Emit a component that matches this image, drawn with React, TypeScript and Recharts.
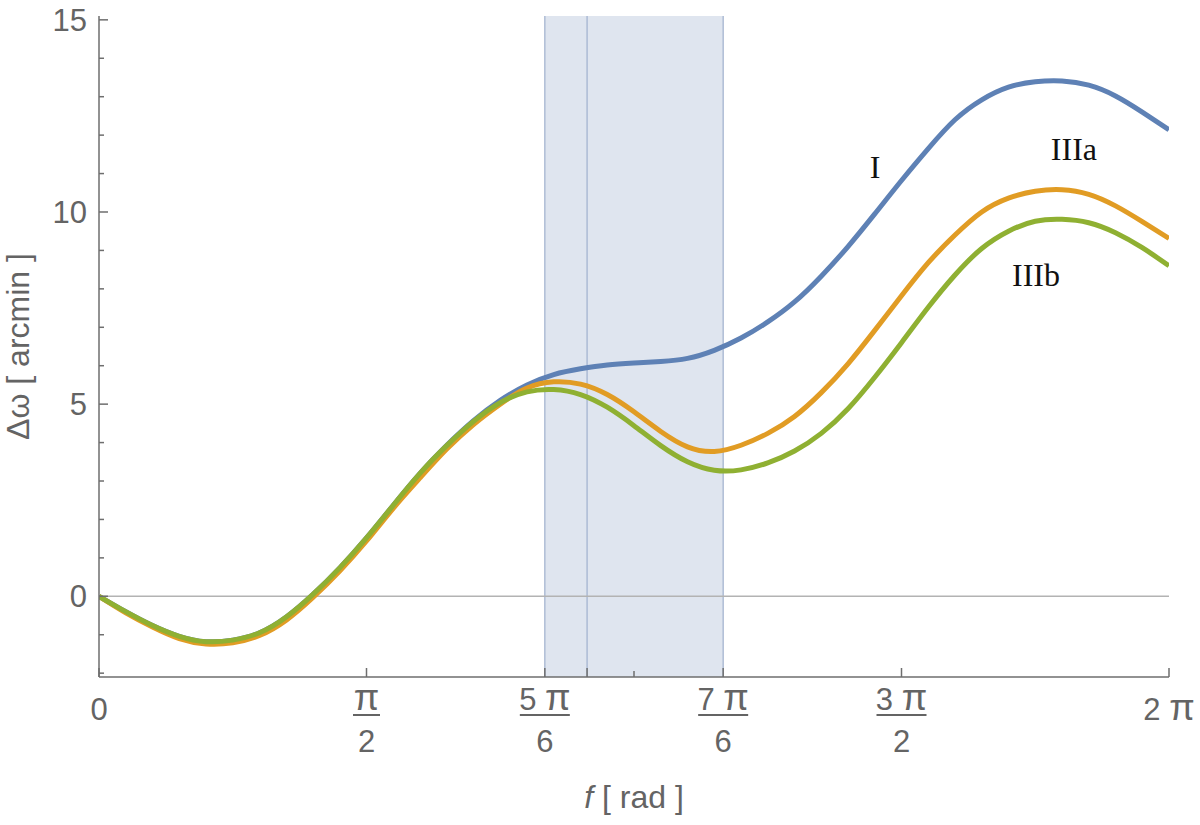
import React from 'react';
import {
  LineChart, Line, XAxis, YAxis, ReferenceArea, ReferenceLine, ReferenceDot,
} from 'recharts';

const PI = Math.PI;

// f in radians (uniform grid, step 2π/40)
const fValues = [0, 0.1571, 0.3142, 0.4712, 0.6283, 0.7854, 0.9425, 1.0996, 1.2566, 1.4137, 1.5708, 1.7279, 1.885, 2.042, 2.1991, 2.3562, 2.5133, 2.6704, 2.8274, 2.9845, 3.1416, 3.2987, 3.4558, 3.6128, 3.7699, 3.927, 4.0841, 4.2412, 4.3982, 4.5553, 4.7124, 4.8695, 5.0265, 5.1836, 5.3407, 5.4978, 5.6549, 5.812, 5.969, 6.1261, 6.2831];
const seriesI = [0, -0.40, -0.76, -1.04, -1.18, -1.14, -0.95, -0.54, 0.05, 0.74, 1.52, 2.37, 3.2, 3.93, 4.57, 5.1, 5.5, 5.77, 5.92, 6.02, 6.07, 6.11, 6.19, 6.4, 6.72, 7.14, 7.66, 8.33, 9.1, 9.95, 10.82, 11.65, 12.4, 12.92, 13.25, 13.39, 13.41, 13.3, 13.02, 12.6, 12.14];
const seriesIIIa = [0, -0.43, -0.80, -1.10, -1.24, -1.21, -1.02, -0.62, -0.03, 0.66, 1.44, 2.29, 3.08, 3.83, 4.47, 5.0, 5.42, 5.58, 5.52, 5.25, 4.8, 4.29, 3.89, 3.77, 3.93, 4.24, 4.68, 5.3, 6.05, 6.92, 7.82, 8.68, 9.4, 10.0, 10.36, 10.54, 10.58, 10.46, 10.16, 9.75, 9.31];
const seriesIIIb = [0, -0.40, -0.76, -1.04, -1.18, -1.14, -0.95, -0.54, 0.05, 0.74, 1.52, 2.37, 3.2, 3.92, 4.55, 5.04, 5.32, 5.38, 5.25, 4.92, 4.44, 3.92, 3.50, 3.28, 3.29, 3.47, 3.78, 4.24, 4.88, 5.7, 6.6, 7.52, 8.36, 9.05, 9.5, 9.76, 9.81, 9.72, 9.46, 9.07, 8.6];

const xTicks = [0, PI / 2, (5 * PI) / 6, 2.866, PI, (7 * PI) / 6, (3 * PI) / 2, 2 * PI];
const xTickLabels = ['0', 'π/2', '5 π/6', '', '', '7 π/6', '3 π/2', '2 π'];
const xTickMinor = [false, false, false, false, true, false, false, false];

const yTicks = [-2, -1, 0, 1, 2, 3, 4, 5, 6, 7, 8, 9, 10, 11, 12, 13, 14, 15];
const yTickLabeled = [0, 5, 10, 15];

const bandStart = (5 * PI) / 6;
const bandEnd = (7 * PI) / 6;
const bandLines = [bandStart, 2.866, bandEnd];

const seriesNames = ['I', 'IIIa', 'IIIb'];
const labelF = [4.557, 5.725, 5.502];
const labelV = [11.17, 11.64, 8.36];

const data = fValues.map((f, i) => ({
  f,
  I: seriesI[i],
  IIIa: seriesIIIa[i],
  IIIb: seriesIIIb[i],
}));

const FONT = '"Liberation Sans", Arial, sans-serif';
const TEXT = '#646464';
const FRAME = '#6e6e6e';

const findIdx = (v: number) => xTicks.findIndex((t) => Math.abs(t - v) < 1e-6);

// render text with a larger π glyph
const withPi = (s: string) => {
  const parts = s.split('π');
  const out: any[] = [];
  parts.forEach((p, i) => {
    if (p) out.push(<tspan key={'t' + i}>{p}</tspan>);
    if (i < parts.length - 1) out.push(<tspan key={'p' + i} fontSize={37}>π</tspan>);
  });
  return out;
};

const BottomTick = (props: any) => {
  const { x, y, payload } = props;
  const i = findIdx(payload.value);
  const len = xTickMinor[i] ? 6 : 9;
  const lab = xTickLabels[i] || '';
  let labelEl: any = null;
  if (lab.includes('/')) {
    const [num, den] = lab.split('/');
    const w = num.length > 1 ? 50 : 27;
    labelEl = (
      <g>
        <text x={x} y={y + 33} textAnchor="middle" fontSize={31} fontFamily={FONT} fill={TEXT}>{withPi(num)}</text>
        <line x1={x - w / 2} x2={x + w / 2} y1={y + 38} y2={y + 38} stroke={TEXT} strokeWidth={2} />
        <text x={x} y={y + 75} textAnchor="middle" fontSize={31} fontFamily={FONT} fill={TEXT}>{den}</text>
      </g>
    );
  } else if (lab) {
    labelEl = (
      <text x={x} y={y + 43} textAnchor="middle" fontSize={31} fontFamily={FONT} fill={TEXT}>{withPi(lab)}</text>
    );
  }
  return (
    <g>
      <line x1={x} x2={x} y1={y} y2={y - len} stroke={FRAME} strokeWidth={1.5} />
      {labelEl}
    </g>
  );
};

const TopTick = (props: any) => {
  const { x, y, payload } = props;
  const i = findIdx(payload.value);
  const len = xTickMinor[i] ? 6 : 9;
  return <line x1={x} x2={x} y1={y} y2={y + len} stroke={FRAME} strokeWidth={1.5} />;
};

const LeftTick = (props: any) => {
  const { x, y, payload } = props;
  const major = yTickLabeled.includes(payload.value);
  return (
    <g>
      <line x1={x} x2={x + (major ? 9 : 5)} y1={y} y2={y} stroke={FRAME} strokeWidth={1.5} />
      {major && (
        <text x={x - 12} y={y + 11} textAnchor="end" fontSize={31} fontFamily={FONT} fill={TEXT}>
          {payload.value}
        </text>
      )}
    </g>
  );
};

const RightTick = (props: any) => {
  const { x, y, payload } = props;
  const major = yTickLabeled.includes(payload.value);
  return <line x1={x} x2={x - (major ? 9 : 5)} y1={y} y2={y} stroke={FRAME} strokeWidth={1.5} />;
};

const YLabel = (props: any) => {
  const vb = props.viewBox || {};
  const cx = (vb.x || 0) + 29;
  const cy = (vb.y || 0) + (vb.height || 0) / 2;
  return (
    <text x={cx} y={cy} transform={`rotate(-90, ${cx}, ${cy})`} textAnchor="middle" fontSize={32} fontFamily={FONT} fill={TEXT}>
      Δω [ arcmin ]
    </text>
  );
};

const XLabel = (props: any) => {
  const vb = props.viewBox || {};
  const cx = (vb.x || 0) + (vb.width || 0) / 2;
  const cy = (vb.y || 0) + 131;
  return (
    <text x={cx} y={cy} textAnchor="middle" fontSize={32} fontFamily={FONT} fill={TEXT}>
      <tspan fontStyle="italic">f</tspan> [ rad ]
    </text>
  );
};

export default function App() {
  return (
    <div style={{ position: 'absolute', left: 0, top: 0, width: 1200, height: 825, background: '#fff' }}>
      <LineChart width={1200} height={825} data={data} margin={{ top: 16, right: 31, bottom: 0, left: 0 }}>
        <XAxis
          dataKey="f"
          type="number"
          domain={[0, 2 * PI]}
          ticks={xTicks}
          interval={0}
          height={148}
          tickSize={0}
          tickMargin={0}
          tickLine={false}
          axisLine={{ stroke: FRAME, strokeWidth: 1.5 }}
          tick={<BottomTick />}
          allowDataOverflow
          label={<XLabel />}
        />
        <XAxis
          xAxisId="top"
          orientation="top"
          dataKey="f"
          type="number"
          domain={[0, 2 * PI]}
          ticks={xTicks}
          interval={0}
          height={0}
          tickSize={0}
          tickMargin={0}
          tickLine={false}
          axisLine={{ stroke: FRAME, strokeWidth: 1.5 }}
          tick={<TopTick />}
          allowDataOverflow
        />
        <YAxis
          type="number"
          domain={[-2.1, 15.1]}
          ticks={yTicks}
          interval={0}
          width={99}
          tickSize={0}
          tickMargin={0}
          tickLine={false}
          axisLine={{ stroke: FRAME, strokeWidth: 1.5 }}
          tick={<LeftTick />}
          allowDataOverflow
          label={<YLabel />}
        />
        <YAxis
          yAxisId="right"
          orientation="right"
          type="number"
          domain={[-2.1, 15.1]}
          ticks={yTicks}
          interval={0}
          width={0}
          tickSize={0}
          tickMargin={0}
          tickLine={false}
          axisLine={{ stroke: FRAME, strokeWidth: 1.5 }}
          tick={<RightTick />}
          allowDataOverflow
        />
        <ReferenceArea x1={bandStart} x2={bandEnd} fill="#dfe5ef" fillOpacity={1} stroke="none" ifOverflow="hidden" />
        {bandLines.map((v, i) => (
          <ReferenceLine key={i} x={v} stroke="#9fb0cd" strokeWidth={1.2} />
        ))}
        <ReferenceLine y={0} stroke="#b3b3b3" strokeWidth={1.5} />
        <Line type="natural" dataKey="I" stroke="#5e81b5" strokeWidth={5} dot={false} isAnimationActive={false} />
        <Line type="natural" dataKey="IIIa" stroke="#e19c24" strokeWidth={5} dot={false} isAnimationActive={false} />
        <Line type="natural" dataKey="IIIb" stroke="#8fb032" strokeWidth={5} dot={false} isAnimationActive={false} />
        {seriesNames.map((n, i) => (
          <ReferenceDot
            key={n}
            x={labelF[i]}
            y={labelV[i]}
            r={0}
            fill="none"
            stroke="none"
            label={{ value: n, position: 'center', fontSize: 32, fontFamily: '"Liberation Serif", "Times New Roman", serif', fill: '#111' }}
          />
        ))}
      </LineChart>
    </div>
  );
}
